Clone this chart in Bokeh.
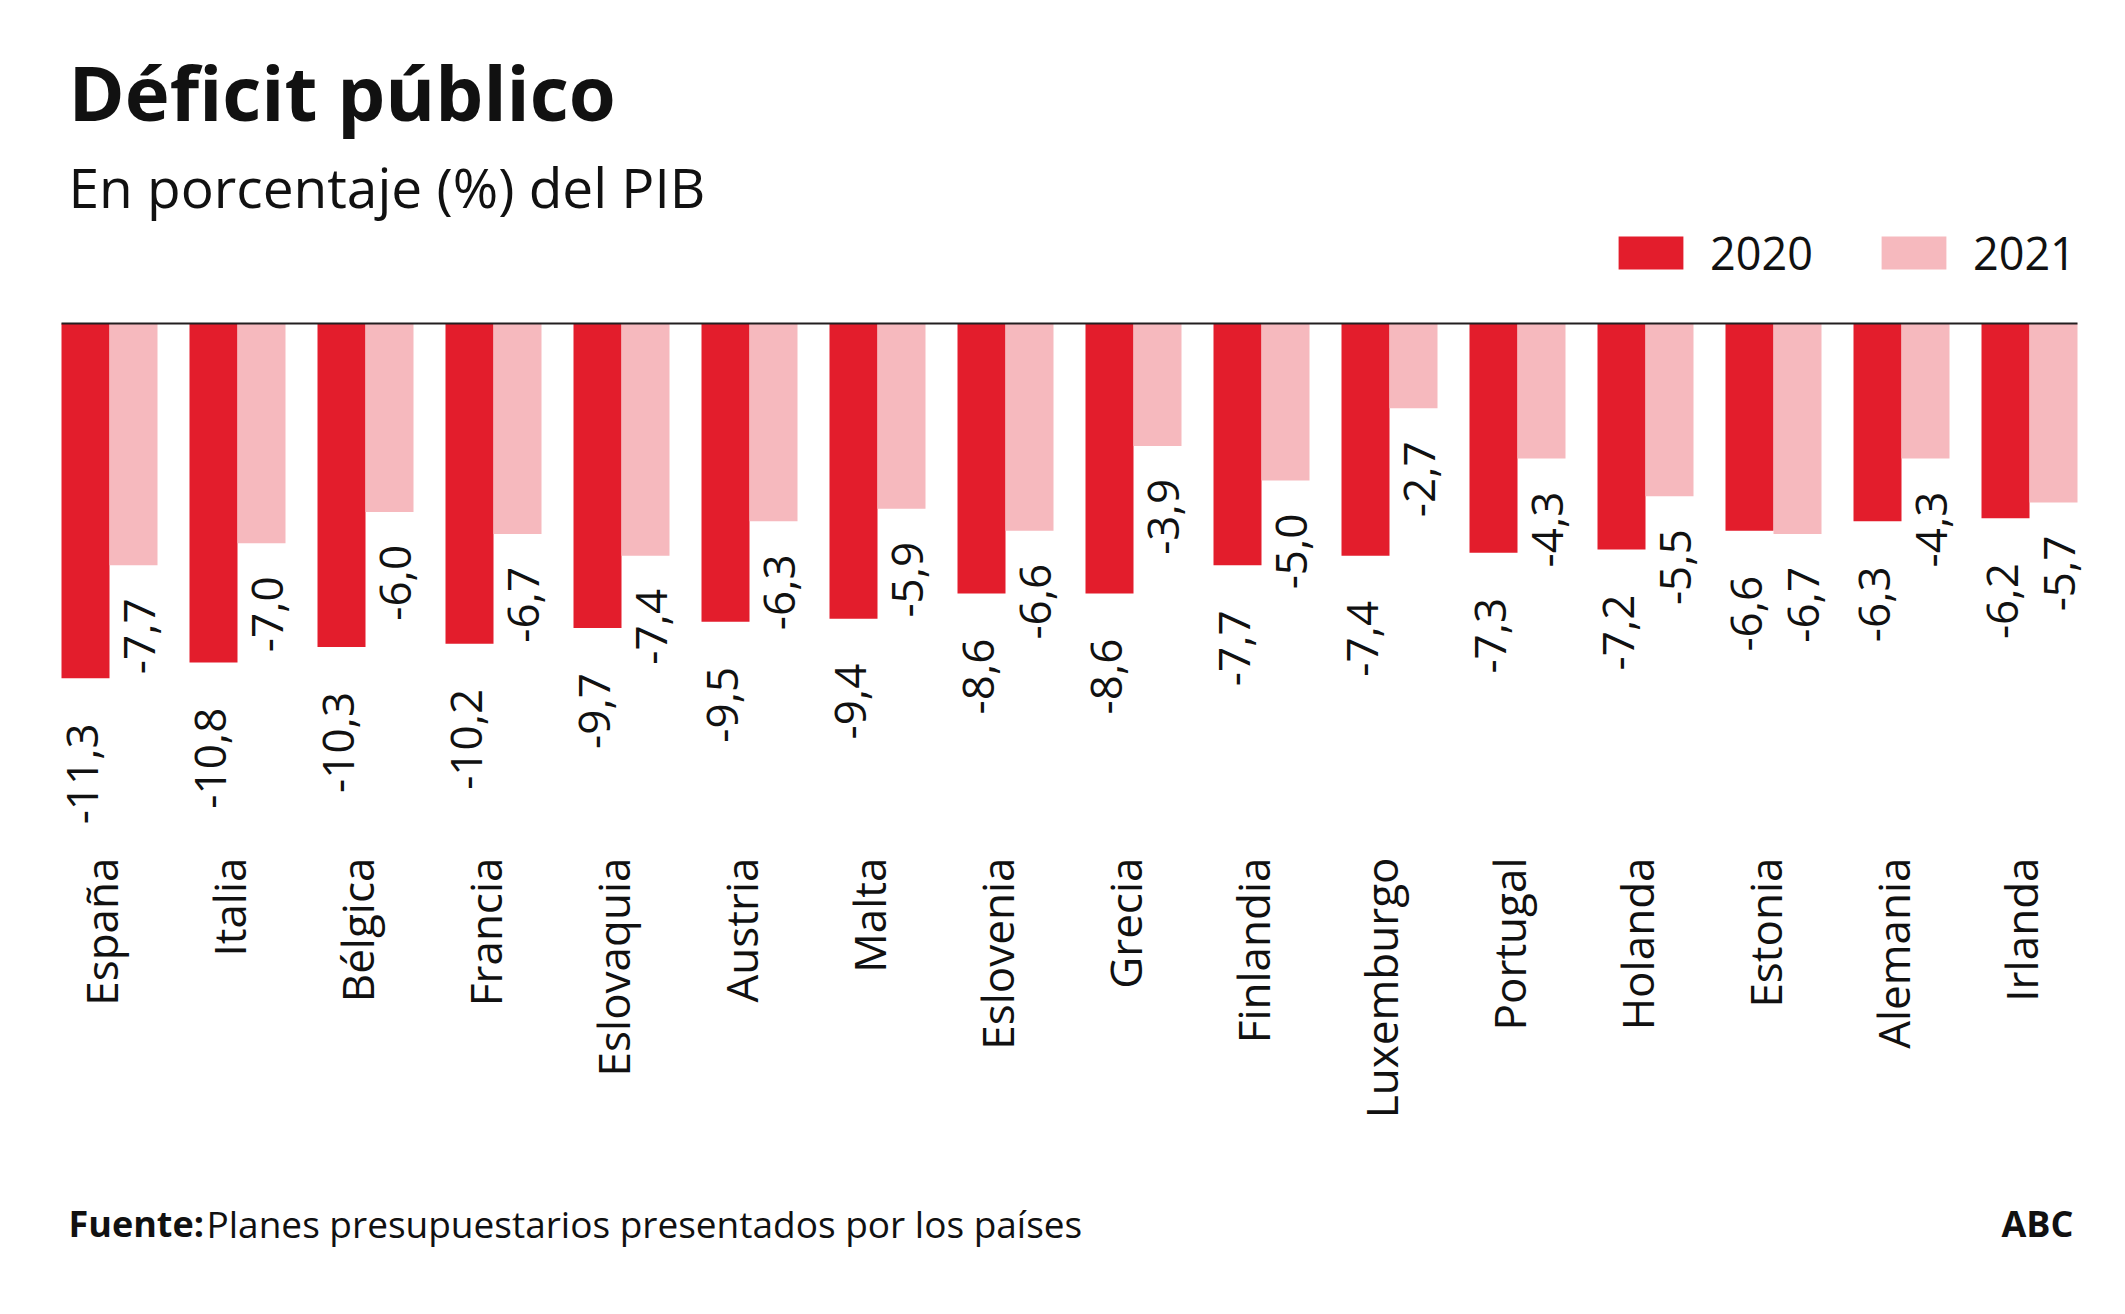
import math
from bokeh.plotting import figure
from bokeh.models import ColumnDataSource, Range1d, FactorRange, Label, Legend, LegendItem
from bokeh.transform import dodge
from bokeh.core.properties import value
from bokeh.embed import file_html
from bokeh.resources import INLINE

# ---------------- data ----------------
countries = ["España", "Italia", "Bélgica", "Francia", "Eslovaquia", "Austria", "Malta",
             "Eslovenia", "Grecia", "Finlandia", "Luxemburgo", "Portugal", "Holanda",
             "Estonia", "Alemania", "Irlanda"]
deficit_2020 = [-11.3, -10.8, -10.3, -10.2, -9.7, -9.5, -9.4, -8.6, -8.6, -7.7, -7.4,
                -7.3, -7.2, -6.6, -6.3, -6.2]
deficit_2021 = [-7.7, -7.0, -6.0, -6.7, -7.4, -6.3, -5.9, -6.6, -3.9, -5.0, -2.7,
                -4.3, -5.5, -6.7, -4.3, -5.7]
series_names = ["2020", "2021"]

title_text = "Déficit público"
subtitle_text = "En porcentaje (%) del PIB"
source_bold = "Fuente:"
source_text = "Planes presupuestarios presentados por los países"
brand_text = "ABC"

# ---------------- styling / layout ----------------
RED = "#E31D2C"
PINK = "#F6B9BE"
TEXT = "#111111"
FONT = "Open Sans"

W, H = 2110, 1298
BORDER_L, BORDER_R = 45, 17
PX_PER_UNIT = 31.4
ZERO_Y = 323          # canvas px from top where value 0 sits
CAT_TOP = 857         # canvas px from top where country labels start
BAR_W = 0.375

def fmt(v):
    return f"{v:.1f}".replace(".", ",")

src = ColumnDataSource(dict(
    country=countries,
    v2020=deficit_2020,
    v2021=deficit_2021,
    t2020=[fmt(v) for v in deficit_2020],
    t2021=[fmt(v) for v in deficit_2021],
    ycat=[-(CAT_TOP - ZERO_Y) / PX_PER_UNIT] * len(countries),
))

p = figure(
    width=W, height=H,
    x_range=FactorRange(factors=countries, range_padding=0, factor_padding=0),
    y_range=Range1d(-(H - ZERO_Y) / PX_PER_UNIT, ZERO_Y / PX_PER_UNIT),
    x_axis_type=None, y_axis_type=None,
    toolbar_location=None, output_backend="svg",
    min_border_left=BORDER_L, min_border_right=BORDER_R,
    min_border_top=0, min_border_bottom=0,
    outline_line_color=None, background_fill_color="white",
)
p.xgrid.visible = False
p.ygrid.visible = False

r1 = p.vbar(x=dodge("country", -BAR_W / 2, range=p.x_range), top=0, bottom="v2020",
            width=BAR_W, source=src, fill_color=RED, line_color=None)
r2 = p.vbar(x=dodge("country", BAR_W / 2, range=p.x_range), top=0, bottom="v2021",
            width=BAR_W, source=src, fill_color=PINK, line_color=None)

# zero line
line_src = ColumnDataSource(dict(c0=[countries[0]], c1=[countries[-1]], y=[0]))
p.segment(x0=dodge("c0", -BAR_W, range=p.x_range), x1=dodge("c1", BAR_W, range=p.x_range),
          y0="y", y1="y", source=line_src, line_color="#231F20", line_width=2)

# value labels
common = dict(angle=math.pi / 2, text_align="right", text_baseline="middle",
              text_font=value(FONT), text_font_size=value("44px"), text_color=TEXT,
              source=src)
p.text(x=dodge("country", -BAR_W / 2, range=p.x_range), y="v2020", text="t2020",
       y_offset=45, x_offset=-3, **common)
p.text(x=dodge("country", BAR_W / 2, range=p.x_range), y="v2021", text="t2021",
       y_offset=33, x_offset=6, **common)

# country labels
p.text(x="country", y="ycat", text="country", angle=math.pi / 2, text_align="right",
       text_baseline="middle", text_font=value(FONT), text_font_size=value("44px"),
       text_color=TEXT, x_offset=-9, source=src)

# legend
legend = Legend(
    items=[LegendItem(label=series_names[0], renderers=[r1]),
           LegendItem(label=series_names[1], renderers=[r2])],
    orientation="horizontal", location=(1610 - BORDER_L, 1015),
    glyph_width=81, glyph_height=41, label_standoff=19, spacing=60,
    padding=0, margin=0, border_line_color=None, background_fill_alpha=0,
    label_text_font=FONT, label_text_font_size="45px", label_text_color=TEXT,
    label_height=41,
)
p.add_layout(legend, "center")

# titles and footer (screen units relative to frame: x from left, y from bottom)
def screen_label(text, x, baseline_y, size_px, bold=False, align="left"):
    anchor_y = baseline_y - 0.38 * size_px
    return Label(x=x - BORDER_L, y=H - anchor_y, x_units="screen", y_units="screen",
                 text=text, text_font=FONT, text_font_size=f"{size_px}px",
                 text_font_style="bold" if bold else "normal", text_color=TEXT,
                 text_align=align, text_baseline="alphabetic")

p.add_layout(screen_label(title_text, 68, 120, 76, bold=True))
p.add_layout(screen_label(subtitle_text, 68, 207, 55))
p.add_layout(screen_label(source_bold, 68, 1237, 36, bold=True))
p.add_layout(screen_label(source_text, 206, 1237, 37))
p.add_layout(screen_label(brand_text, 2073, 1237, 36, bold=True, align="right"))

open("out.html", "w").write(file_html(p, INLINE))
